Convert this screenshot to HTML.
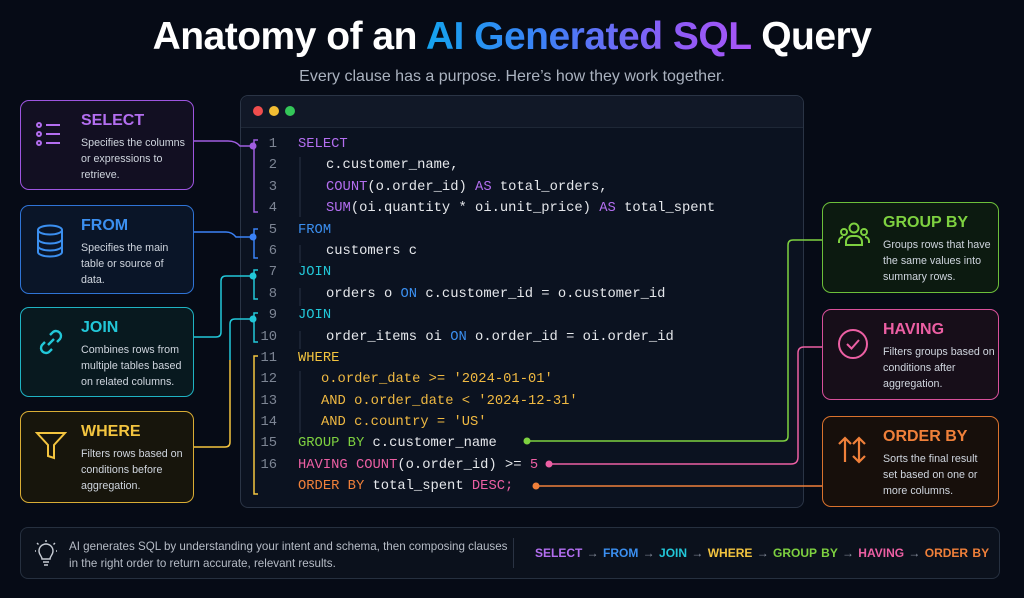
<!DOCTYPE html>
<html><head><meta charset="utf-8"><style>
*{margin:0;padding:0;box-sizing:border-box}
body{width:1024px;height:598px;background:#060b16;font-family:"Liberation Sans",sans-serif;position:relative;overflow:hidden;color:#d6dbe3}
.t{position:absolute;left:0;width:1024px;text-align:center;top:15px;font-size:39px;font-weight:bold;color:#fff;letter-spacing:-0.5px}
.g{background:linear-gradient(90deg,#14a3ee,#3b82f6 35%,#8b5cf6 75%,#a855f7);-webkit-background-clip:text;background-clip:text;color:transparent}
.sub{position:absolute;left:0;width:1024px;text-align:center;top:68px;font-size:16px;color:#aab2bf}
.win{position:absolute;left:240px;top:95px;width:564px;height:413px;border:1px solid #2a3445;border-radius:8px;background:#0b1220}
.bar{height:32px;background:#111827;border-bottom:1px solid #1e2736;border-radius:8px 8px 0 0}
.dot{position:absolute;top:10px;width:10px;height:10px;border-radius:50%}
.card{position:absolute;border:1.5px solid;border-radius:9px}
.card h3{position:absolute;left:60px;top:11px;font-size:16px;font-weight:bold}
.card p{position:absolute;left:60px;top:34px;font-size:10.7px;line-height:16px;color:#cfd5de;width:112px}
.card svg{position:absolute;left:14px;top:18px}
.code{position:absolute;font-family:"Liberation Mono",monospace;font-size:13.8px;color:#e5e7eb;white-space:pre}
.ln{position:absolute;font-family:"Liberation Mono",monospace;font-size:13.8px;color:#7d8594;width:26px;text-align:right}
.p{color:#b36ef0}.b{color:#3b8ff0}.c{color:#22c7d8}.y{color:#f3c43f}.gr{color:#7ed140}.pk{color:#ec5fa3}.o{color:#f0803a}.yo{color:#f0b942}
.foot{position:absolute;left:20px;top:527px;width:980px;height:52px;border:1px solid #26303f;border-radius:8px;background:#0b111c}
</style></head><body>
<div class="t">Anatomy of an <span class="g">AI Generated SQL</span> Query</div>
<div class="sub">Every clause has a purpose. Here’s how they work together.</div>

<div class="win"><div class="bar"></div>
<div class="dot" style="left:12px;background:#ef4d4d"></div>
<div class="dot" style="left:28px;background:#f2bd33"></div>
<div class="dot" style="left:44px;background:#34c759"></div>
</div>

<svg width="1024" height="598" style="position:absolute;left:0;top:0" fill="none" stroke-width="1.5">
<path d="M258 140 h-4 v72 h4" stroke="#a05ee0"/>
<path d="M258 229 h-4 v29 h4" stroke="#3b82f6"/>
<path d="M258 270 h-4 v29 h4" stroke="#22c7d8"/>
<path d="M258 313 h-4 v29 h4" stroke="#22c7d8"/>
<path d="M258 356 h-4 v138 h4" stroke="#f3c43f"/>
<path d="M300 157 v60 M300 245 v18 M300 288 v18 M300 331 v18 M300 371 v62" stroke="#2a3343" stroke-width="1"/>
<path d="M193 141 H228 Q236 141 240 146 H253" stroke="#a05ee0"/>
<circle cx="253" cy="146" r="3.5" fill="#a05ee0"/>
<path d="M193 232 H226 Q232 232 236 237 H253" stroke="#3b82f6"/>
<circle cx="253" cy="237" r="3.5" fill="#3b82f6"/>
<path d="M193 337 H216 Q221 337 221 332 V281 Q221 276 226 276 H253" stroke="#22c7d8"/>
<circle cx="253" cy="276" r="3.5" fill="#22c7d8"/>
<path d="M230 360 V324 Q230 319 235 319 H253" stroke="#22c7d8"/>
<path d="M193 447 H225 Q230 447 230 442 V360" stroke="#f3c43f"/>
<circle cx="253" cy="319" r="3.5" fill="#22c7d8"/>
<path d="M527 441 H783 Q788 441 788 436 V245 Q788 240 793 240 H822" stroke="#7ed140"/>
<circle cx="527" cy="441" r="3.5" fill="#7ed140"/>
<path d="M549 464 H791 Q798 464 798 457 V353 Q798 347 804 347 H822" stroke="#ec5fa3"/>
<circle cx="549" cy="464" r="3.5" fill="#ec5fa3"/>
<path d="M536 486 H822" stroke="#f0803a"/>
<circle cx="536" cy="486" r="3.5" fill="#f0803a"/>
</svg>

<div class="ln" style="left:251px;top:137px">1</div>
<div class="ln" style="left:251px;top:158px">2</div>
<div class="ln" style="left:251px;top:180px">3</div>
<div class="ln" style="left:251px;top:201px">4</div>
<div class="ln" style="left:251px;top:223px">5</div>
<div class="ln" style="left:251px;top:244px">6</div>
<div class="ln" style="left:251px;top:265px">7</div>
<div class="ln" style="left:251px;top:287px">8</div>
<div class="ln" style="left:251px;top:308px">9</div>
<div class="ln" style="left:251px;top:330px">10</div>
<div class="ln" style="left:251px;top:351px">11</div>
<div class="ln" style="left:251px;top:372px">12</div>
<div class="ln" style="left:251px;top:394px">13</div>
<div class="ln" style="left:251px;top:415px">14</div>
<div class="ln" style="left:251px;top:436px">15</div>
<div class="ln" style="left:251px;top:458px">16</div>

<div class="code p" style="left:298px;top:137px">SELECT</div>
<div class="code" style="left:326px;top:158px">c.customer_name,</div>
<div class="code" style="left:326px;top:180px"><span class="p">COUNT</span>(o.order_id) <span class="p">AS</span> total_orders,</div>
<div class="code" style="left:326px;top:201px"><span class="p">SUM</span>(oi.quantity * oi.unit_price) <span class="p">AS</span> total_spent</div>
<div class="code b" style="left:298px;top:223px">FROM</div>
<div class="code" style="left:326px;top:244px">customers c</div>
<div class="code c" style="left:298px;top:265px">JOIN</div>
<div class="code" style="left:326px;top:287px">orders o <span class="b">ON</span> c.customer_id = o.customer_id</div>
<div class="code c" style="left:298px;top:308px">JOIN</div>
<div class="code" style="left:326px;top:330px">order_items oi <span class="b">ON</span> o.order_id = oi.order_id</div>
<div class="code y" style="left:298px;top:351px">WHERE</div>
<div class="code yo" style="left:321px;top:372px">o.order_date &gt;= '2024-01-01'</div>
<div class="code yo" style="left:321px;top:394px">AND o.order_date &lt; '2024-12-31'</div>
<div class="code yo" style="left:321px;top:415px">AND c.country = 'US'</div>
<div class="code" style="left:298px;top:436px"><span class="gr">GROUP BY</span> c.customer_name</div>
<div class="code" style="left:298px;top:458px"><span class="pk">HAVING COUNT</span>(o.order_id) &gt;= <span class="pk">5</span></div>
<div class="code" style="left:298px;top:479px"><span class="o">ORDER BY</span> total_spent <span class="pk">DESC;</span></div>

<div class="card" style="left:20px;top:100px;width:174px;height:90px;border-color:#9d55e0;background:#120f22">
<svg width="30" height="30" viewBox="0 0 30 30" stroke="#b36ef0" stroke-width="2" fill="none"><circle cx="4" cy="6" r="2"/><circle cx="4" cy="15" r="2"/><circle cx="4" cy="24" r="2"/><path d="M11 6h14M11 15h14M11 24h14"/></svg>
<h3 class="p">SELECT</h3><p>Specifies the columns or expressions to retrieve.</p></div>
<div class="card" style="left:20px;top:205px;width:174px;height:89px;border-color:#2f74d6;background:#0a1528">
<svg width="30" height="34" viewBox="0 0 30 34" stroke="#3b8ff0" stroke-width="2" fill="none"><ellipse cx="15" cy="6" rx="12" ry="4.5"/><path d="M3 6v22c0 2.5 5.4 4.5 12 4.5s12-2 12-4.5V6M3 15c0 2.5 5.4 4.5 12 4.5s12-2 12-4.5M3 22c0 2.5 5.4 4.5 12 4.5s12-2 12-4.5"/></svg>
<h3 class="b">FROM</h3><p style="width:100px">Specifies the main table or source of data.</p></div>
<div class="card" style="left:20px;top:307px;width:174px;height:90px;border-color:#1fb3c3;background:#08191f">
<svg width="32" height="32" viewBox="0 0 32 32" stroke="#22c7d8" stroke-width="2.4" fill="none"><path d="M13 19l6-6M15 9l3-3a5 5 0 017 7l-3 3M17 23l-3 3a5 5 0 01-7-7l3-3"/></svg>
<h3 class="c">JOIN</h3><p>Combines rows from multiple tables based on related columns.</p></div>
<div class="card" style="left:20px;top:411px;width:174px;height:92px;border-color:#d9ad35;background:#17150c">
<svg width="32" height="32" viewBox="0 0 32 32" stroke="#f3c43f" stroke-width="2" fill="none"><path d="M2 3h28l-11 12v13l-6 -2V15z"/></svg>
<h3 class="y">WHERE</h3><p>Filters rows based on conditions before aggregation.</p></div>

<div class="card" style="left:822px;top:202px;width:177px;height:91px;border-color:#6cbf3a;background:#0c1a10">
<svg width="34" height="28" viewBox="0 0 34 28" stroke="#7ed140" stroke-width="2" fill="none"><circle cx="17" cy="7" r="4.5"/><path d="M9 24v-3a6 6 0 016-6h4a6 6 0 016 6v3z"/><circle cx="7" cy="11" r="3"/><circle cx="27" cy="11" r="3"/><path d="M2 22v-2a4 4 0 014-4M32 22v-2a4 4 0 00-4-4"/></svg>
<h3 class="gr">GROUP BY</h3><p>Groups rows that have the same values into summary rows.</p></div>
<div class="card" style="left:822px;top:309px;width:177px;height:91px;border-color:#d8509a;background:#170e19">
<svg width="34" height="34" viewBox="0 0 34 34" stroke="#ec5fa3" stroke-width="2" fill="none"><circle cx="16" cy="16" r="14"/><path d="M10 16l4.5 4.5L22 12"/></svg>
<h3 class="pk">HAVING</h3><p>Filters groups based on conditions after aggregation.</p></div>
<div class="card" style="left:822px;top:416px;width:177px;height:91px;border-color:#d9722d;background:#170f0b">
<svg width="32" height="30" viewBox="0 0 32 30" stroke="#f0803a" stroke-width="2.2" fill="none"><path d="M8 27V3M2 9l6-6 6 6M22 3v24M16 21l6 6 6-6M16 9l6-6 6 6"/></svg>
<h3 class="o">ORDER BY</h3><p style="width:106px">Sorts the final result set based on one or more columns.</p></div>

<div class="foot">
<svg width="22" height="28" viewBox="0 0 22 28" style="position:absolute;left:14px;top:12px" stroke="#c7ccd4" stroke-width="1.4" fill="none"><path d="M7 19c0-3-3-4-3-8a7 7 0 0114 0c0 4-3 5-3 8zM8 22h6M9 25h4M11 0v2M2 3l1.5 1.5M20 3l-1.5 1.5M0 11h1M21 11h1"/></svg>
<div style="position:absolute;left:48px;top:10px;font-size:11.6px;line-height:17px;color:#b6bcc6">AI generates SQL by understanding your intent and schema, then composing clauses<br>in the right order to return accurate, relevant results.</div>
<div style="position:absolute;left:492px;top:10px;width:1px;height:30px;background:#2a3343"></div>
<div style="position:absolute;left:514px;top:18px;font-size:12px;font-weight:bold;color:#8a92a0;white-space:pre;word-spacing:1px"><span class="p">SELECT</span> → <span class="b">FROM</span> → <span class="c">JOIN</span> → <span class="y">WHERE</span> → <span class="gr">GROUP BY</span> → <span class="pk">HAVING</span> → <span class="o">ORDER BY</span></div>
</div>
</body></html>
